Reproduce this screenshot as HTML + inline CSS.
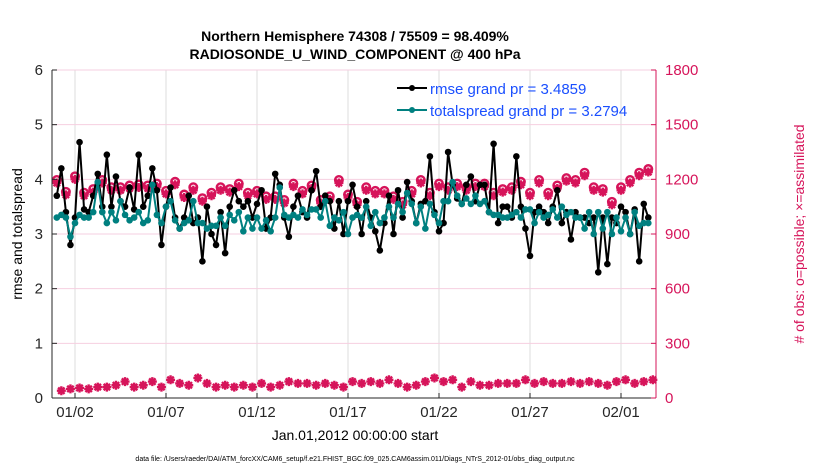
<!DOCTYPE html>
<html><head><meta charset="utf-8"><style>
body{margin:0;background:#fff;}
svg{display:block;font-family:"Liberation Sans",Arial,sans-serif;}
</style></head><body>
<svg width="830" height="470">
<g id="grid"></g>
<g id="marks"></g>
<g id="axes"></g>
<text x="355" y="41" text-anchor="middle" font-size="14" font-weight="bold">Northern Hemisphere 74308 / 75509 = 98.409%</text>
<text x="355" y="59" text-anchor="middle" font-size="14" font-weight="bold">RADIOSONDE_U_WIND_COMPONENT @ 400 hPa</text>
<text transform="translate(22,234) rotate(-90)" text-anchor="middle" font-size="14">rmse and totalspread</text>
<text transform="translate(804,234) rotate(-90)" text-anchor="middle" font-size="14" fill="#d6145a"># of obs: o=possible; ×=assimilated</text>
<text x="355" y="440" text-anchor="middle" font-size="14">Jan.01,2012 00:00:00 start</text>
<text x="355" y="461" text-anchor="middle" font-size="7">data file: /Users/raeder/DAI/ATM_forcXX/CAM6_setup/f.e21.FHIST_BGC.f09_025.CAM6assim.011/Diags_NTrS_2012-01/obs_diag_output.nc</text>
<g>
<line x1="397" y1="88" x2="427" y2="88" stroke="#000" stroke-width="2"/><circle cx="412" cy="88" r="3" fill="#000"/>
<text x="430" y="94" font-size="15" fill="#1a4fff">rmse grand pr = 3.4859</text>
<line x1="397" y1="110" x2="427" y2="110" stroke="#008080" stroke-width="2"/><circle cx="412" cy="110" r="3" fill="#008080"/>
<text x="430" y="116" font-size="15" fill="#1a4fff">totalspread grand pr = 3.2794</text>
</g>
</svg>
<script>
const rmse=[3.7,4.2,3.4,2.8,3.3,4.68,3.45,3.4,3.7,4.1,3.5,4.45,3.5,4.05,3.6,3.5,3.85,3.45,4.45,3.5,3.7,4.2,3.8,2.8,3.5,3.85,3.3,3.1,3.3,3.7,3.2,3.3,2.5,3.5,3.0,2.8,3.4,2.65,3.5,3.8,3.6,3.5,3.6,3.3,3.55,3.8,3.1,3.3,4.1,3.9,3.3,2.95,3.5,3.7,3.4,3.3,3.8,4.15,3.5,3.7,3.6,3.1,3.6,3.0,3.6,3.9,3.5,3.0,3.6,3.3,3.05,2.7,3.2,3.7,3.0,3.8,3.3,3.95,3.6,3.2,3.55,3.6,4.42,3.4,3.05,3.2,4.5,3.9,3.65,3.55,3.9,4.05,3.6,3.9,3.9,3.4,4.65,3.2,3.5,3.5,3.3,4.42,3.5,3.1,2.6,3.4,3.5,3.4,3.2,3.5,3.8,3.2,3.4,2.9,3.4,3.3,3.3,3.2,3.3,2.3,3.3,2.45,3.3,3.2,3.5,3.4,3.0,3.45,2.5,3.55,3.3];
const spread=[3.3,3.35,3.3,2.95,3.2,3.35,3.3,3.3,3.4,3.95,3.4,3.2,3.4,3.25,3.6,3.35,3.25,3.3,3.4,3.2,3.25,3.9,3.35,3.2,3.5,3.6,3.25,3.1,3.2,3.25,3.6,3.2,3.2,3.1,3.15,3.15,3.3,3.15,3.35,3.25,3.4,3.05,3.3,3.1,3.3,3.1,3.25,3.05,3.3,3.85,3.35,3.3,3.35,3.3,3.45,3.35,3.45,3.45,3.3,3.6,3.15,3.3,3.25,3.4,3.0,3.3,3.35,3.3,3.5,3.15,3.4,3.2,3.3,3.5,3.3,3.55,3.4,3.75,3.55,3.2,3.5,3.1,3.55,3.35,3.2,3.6,3.6,3.95,3.7,3.55,3.65,3.55,3.7,3.55,3.6,3.4,3.35,3.35,3.3,3.3,3.35,3.4,3.3,3.45,3.45,3.2,3.4,3.3,3.35,3.45,3.3,3.5,3.35,3.4,3.3,3.3,3.1,3.4,3.0,3.4,3.1,3.4,3.0,3.3,3.05,3.3,3.0,3.4,3.15,3.2,3.2];
const obsHigh=[1180,1115,1200,1110,1130,1180,1140,1140,1150,1155,1150,1160,1120,1170,1100,1140,1080,1110,1140,1130,1160,1110,1120,1090,1090,1070,1160,1120,1150,1070,1090,1180,1100,1060,1140,1120,1120,1090,1060,1120,1180,1110,1160,1140,1160,1140,1160,1160,1110,1130,1140,1170,1110,1180,1110,1150,1190,1180,1220,1140,1130,1060,1140,1180,1220,1240,1160];
const obsLow=[40,50,55,50,60,60,70,90,60,70,90,60,100,80,70,110,80,60,70,60,70,60,80,60,70,90,80,80,70,80,70,60,90,80,90,80,100,80,60,70,90,110,90,100,60,90,70,70,80,80,80,100,80,90,80,80,90,80,90,80,70,90,100,80,90,100];
const xTicks=["01/02","01/07","01/12","01/17","01/22","01/27","02/01"];
const xTickDays=[1,6,11,16,21,26,31];
const leftTicks=[0,1,2,3,4,5,6];
const rightTicks=[0,300,600,900,1200,1500,1800];

const NS="http://www.w3.org/2000/svg";
const X0=52,X1=656,Y0=398,Y1=70;
const dayPx=18.2, day0=56.8;
const xDay=d=>day0+d*dayPx;
const yL=v=>Y0-(v/6)*(Y0-Y1);
const yR=v=>Y0-(v/1800)*(Y0-Y1);
function mk(tag,attrs,parent){const e=document.createElementNS(NS,tag);for(const k in attrs)e.setAttribute(k,attrs[k]);parent.appendChild(e);return e;}
const grid=document.getElementById('grid'),marks=document.getElementById('marks'),axes=document.getElementById('axes');
xTickDays.forEach((d,i)=>{const l=mk('line',{x1:xDay(d),x2:xDay(d),y1:Y1,y2:Y0,stroke:'#dcdcdc','stroke-width':1},grid);

});
rightTicks.forEach(v=>{const l=mk('line',{x1:X0,x2:X1,y1:yR(v),y2:yR(v),stroke:'#f6cfe0','stroke-width':1},grid);

});
function obsMarker(x,y,circle){
  const g=mk('g',{},marks);
  
  
  if(circle)mk('circle',{cx:x,cy:y-3,r:3.8,fill:'none',stroke:'#d6145a','stroke-width':2.4},g);
  mk('path',{d:`M${x-4.5} ${y}H${x+4.5}M${x} ${y-4.5}V${y+4.5}M${x-3.2} ${y-3.2}L${x+3.2} ${y+3.2}M${x-3.2} ${y+3.2}L${x+3.2} ${y-3.2}`,stroke:'#d6145a','stroke-width':2.4},g);
}
obsHigh.forEach((v,i)=>{if(xDay(i*0.5)<X1)obsMarker(xDay(i*0.5),yR(v),true);});
obsLow.forEach((v,i)=>{if(xDay(i*0.5+0.25)<X1)obsMarker(xDay(i*0.5+0.25),yR(v),false);});
function series(arr,color,name){
  const pts=arr.map((v,i)=>[xDay(i*0.25),yL(v)]);
  const p=mk('polyline',{points:pts.map(p=>p.join(',')).join(' '),fill:'none',stroke:color,'stroke-width':2},marks);
  
  
  pts.forEach(q=>{const c=mk('circle',{cx:q[0],cy:q[1],r:3.3,fill:color},marks);
  
  });
}
series(rmse,'#000','rmse');
series(spread,'#008080','totalspread');
mk('line',{x1:X0,x2:X0,y1:Y1,y2:Y0,stroke:'#262626','stroke-width':1},axes);
mk('line',{x1:X0,x2:X1,y1:Y0,y2:Y0,stroke:'#262626','stroke-width':1},axes);
mk('line',{x1:X1,x2:X1,y1:Y1,y2:Y0,stroke:'#d6145a','stroke-width':1},axes);
leftTicks.forEach(v=>{mk('line',{x1:X0,x2:X0+5,y1:yL(v),y2:yL(v),stroke:'#262626'},axes);
const t=mk('text',{x:X0-9,y:yL(v)+5,'text-anchor':'end','font-size':15,fill:'#262626'},axes);t.textContent=v;

});
rightTicks.forEach(v=>{mk('line',{x1:X1-5,x2:X1,y1:yR(v),y2:yR(v),stroke:'#d6145a'},axes);
const t=mk('text',{x:X1+9,y:yR(v)+5,'font-size':15,fill:'#d6145a'},axes);t.textContent=v;

});
xTickDays.forEach((d,i)=>{mk('line',{x1:xDay(d),x2:xDay(d),y1:Y0-5,y2:Y0,stroke:'#262626'},axes);
const t=mk('text',{x:xDay(d),y:417,'text-anchor':'middle','font-size':15,fill:'#262626'},axes);t.textContent=xTicks[i];

});
</script>
</body></html>
